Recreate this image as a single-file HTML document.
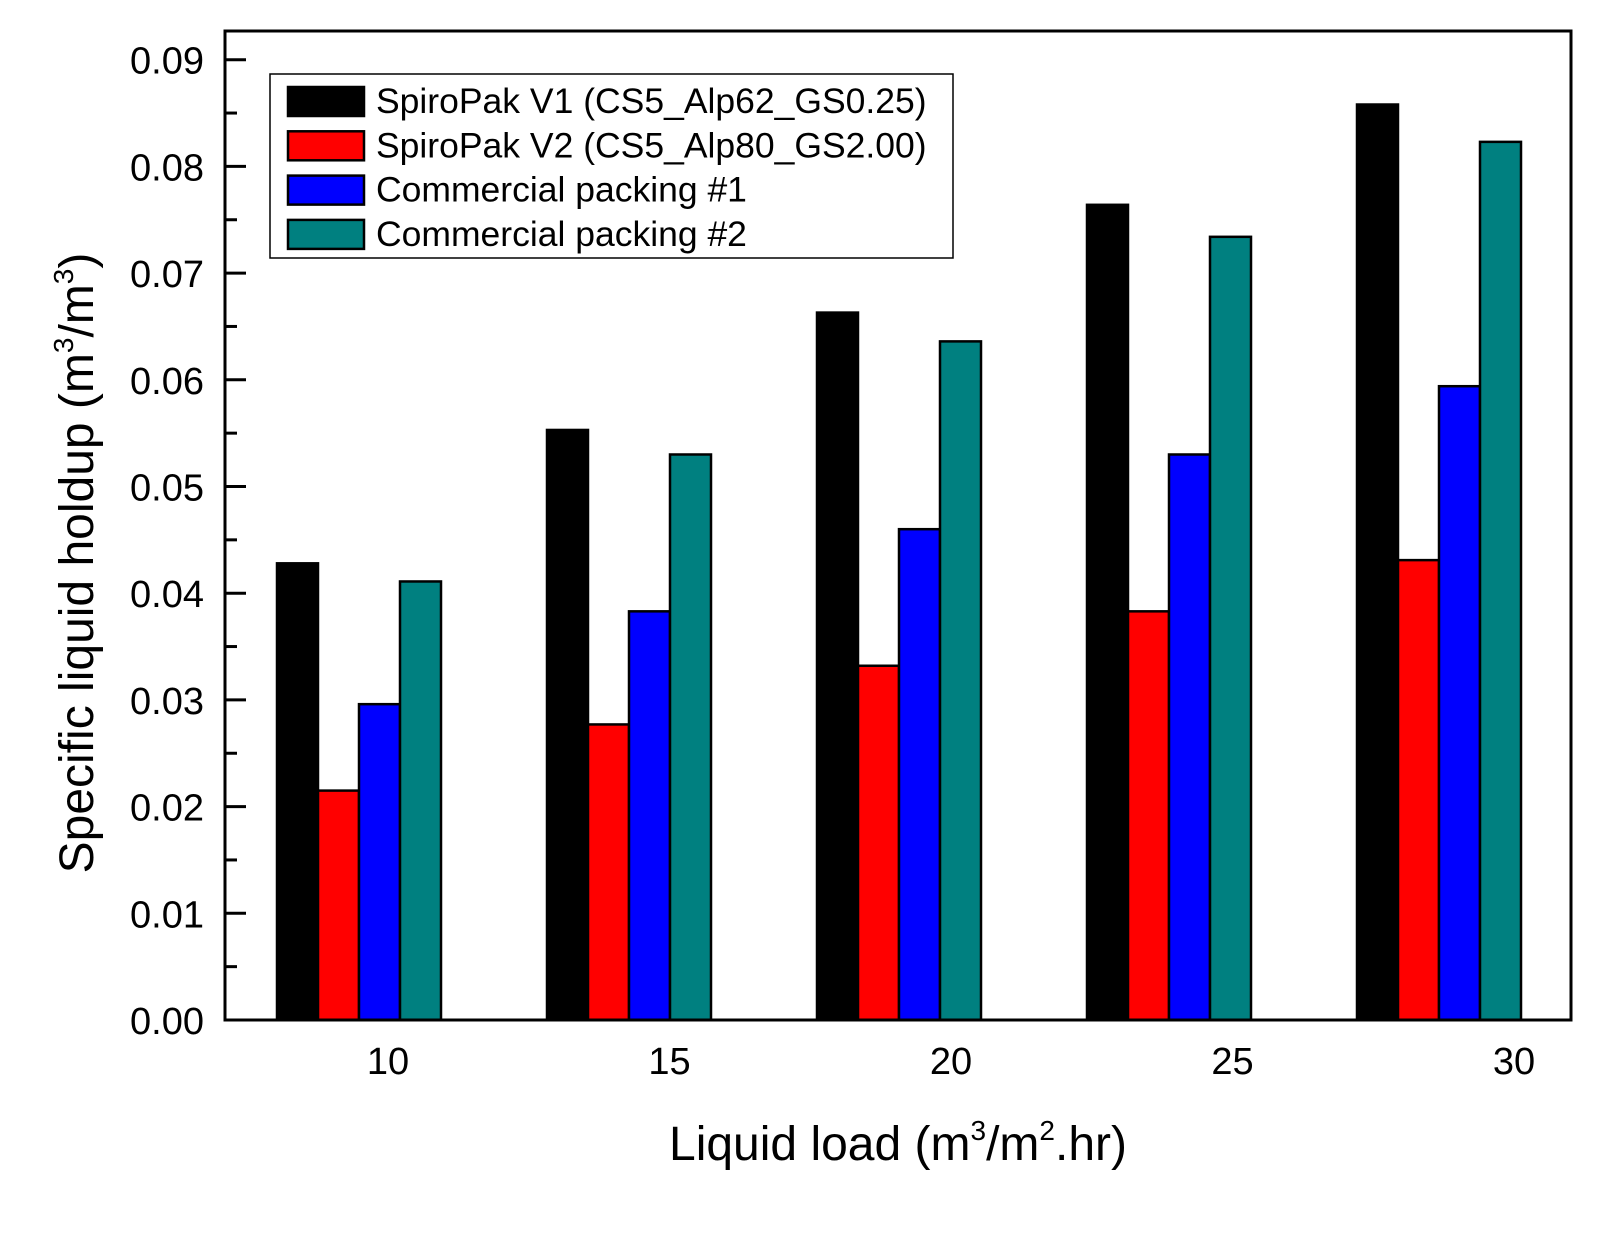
<!DOCTYPE html>
<html><head><meta charset="utf-8"><style>
body{margin:0;background:#fff}
svg text{font-family:"Liberation Sans",sans-serif;fill:#000}
</style></head><body>
<svg id="chart" width="1622" height="1234" xmlns="http://www.w3.org/2000/svg">
<g id="bars"></g>
<g id="yaxis"></g>
<g id="xaxis"></g>
<rect x="225" y="31" width="1346" height="989" fill="none" stroke="#000" stroke-width="3"/>
<text x="93" y="563" font-size="48" text-anchor="middle" transform="rotate(-90 93 563)">Specific liquid holdup (m<tspan dy="-20" font-size="28">3</tspan><tspan dy="20">/m</tspan><tspan dy="-20" font-size="28">3</tspan><tspan dy="20">)</tspan></text>
<text x="898" y="1160" font-size="48" text-anchor="middle">Liquid load (m<tspan dy="-20" font-size="28">3</tspan><tspan dy="20">/m</tspan><tspan dy="-20" font-size="28">2</tspan><tspan dy="20">.hr)</tspan></text>
<g id="legend">
<rect x="270" y="74" width="683" height="184" fill="#fff" stroke="#000" stroke-width="1.5"/>
</g>
</svg>
<script>
const categories=[10,15,20,25,30];
const seriesNames=["SpiroPak V1 (CS5_Alp62_GS0.25)","SpiroPak V2 (CS5_Alp80_GS2.00)","Commercial packing #1","Commercial packing #2"];
const seriesColors=["#000000","#ff0000","#0000ff","#008080"];
const v1=[0.0428,0.0553,0.0663,0.0764,0.0858];
const v2=[0.0215,0.0277,0.0332,0.0383,0.0431];
const c1=[0.0296,0.0383,0.0460,0.0530,0.0594];
const c2=[0.0411,0.0530,0.0636,0.0734,0.0823];
const yTicks=["0.00","0.01","0.02","0.03","0.04","0.05","0.06","0.07","0.08","0.09"];
const series=[v1,v2,c1,c2];
const NS="http://www.w3.org/2000/svg";
const y0=1020,yPer=10670;
function yS(v){return y0-v*yPer;}
function xS(c){return 388+(c-10)*56.3;}
function xB(c){return 277+(c-10)*54.0;}
const bw=41;
const bars=document.getElementById('bars');
categories.forEach((c,i)=>{
  series.forEach((s,j)=>{
    const r=document.createElementNS(NS,'rect');
    const x=xB(c)+j*bw;
    r.setAttribute('x',x);r.setAttribute('y',yS(s[i]));
    r.setAttribute('width',bw);r.setAttribute('height',y0-yS(s[i]));
    r.setAttribute('fill',seriesColors[j]);r.setAttribute('stroke','#000');r.setAttribute('stroke-width','2.5');
    
    
    bars.appendChild(r);
  });
});
const ya=document.getElementById('yaxis');
yTicks.forEach((t,i)=>{
  const v=parseFloat(t),y=yS(v);
  const l=document.createElementNS(NS,'line');
  l.setAttribute('x1',225);l.setAttribute('x2',246);l.setAttribute('y1',y);l.setAttribute('y2',y);l.setAttribute('stroke','#000');l.setAttribute('stroke-width','3');
  
  
  ya.appendChild(l);
  if(i<yTicks.length-1){
    const m=document.createElementNS(NS,'line');const ym=yS(v+0.005);
    m.setAttribute('x1',225);m.setAttribute('x2',237);m.setAttribute('y1',ym);m.setAttribute('y2',ym);m.setAttribute('stroke','#000');m.setAttribute('stroke-width','3');
    
    
    ya.appendChild(m);
  }
  const tx=document.createElementNS(NS,'text');
  tx.setAttribute('x',204);tx.setAttribute('y',y+14);tx.setAttribute('font-size','38');tx.setAttribute('text-anchor','end');
  tx.textContent=t;
  
  
  ya.appendChild(tx);
});
const xa=document.getElementById('xaxis');
categories.forEach(c=>{
  const tx=document.createElementNS(NS,'text');
  tx.setAttribute('x',xS(c));tx.setAttribute('y',1074);tx.setAttribute('font-size','38');tx.setAttribute('text-anchor','middle');
  tx.textContent=c;
  
  
  xa.appendChild(tx);
});
const lg=document.getElementById('legend');
seriesNames.forEach((n,j)=>{
  const yc=101+j*44.3;
  const r=document.createElementNS(NS,'rect');
  r.setAttribute('x',288);r.setAttribute('y',yc-14);r.setAttribute('width',76);r.setAttribute('height',29);
  r.setAttribute('fill',seriesColors[j]);r.setAttribute('stroke','#000');r.setAttribute('stroke-width','2.5');
  
  
  lg.appendChild(r);
  const t=document.createElementNS(NS,'text');
  t.setAttribute('x',376);t.setAttribute('y',yc+12);t.setAttribute('font-size','35.5');
  t.textContent=n;
  
  
  lg.appendChild(t);
});
</script>
</body></html>
